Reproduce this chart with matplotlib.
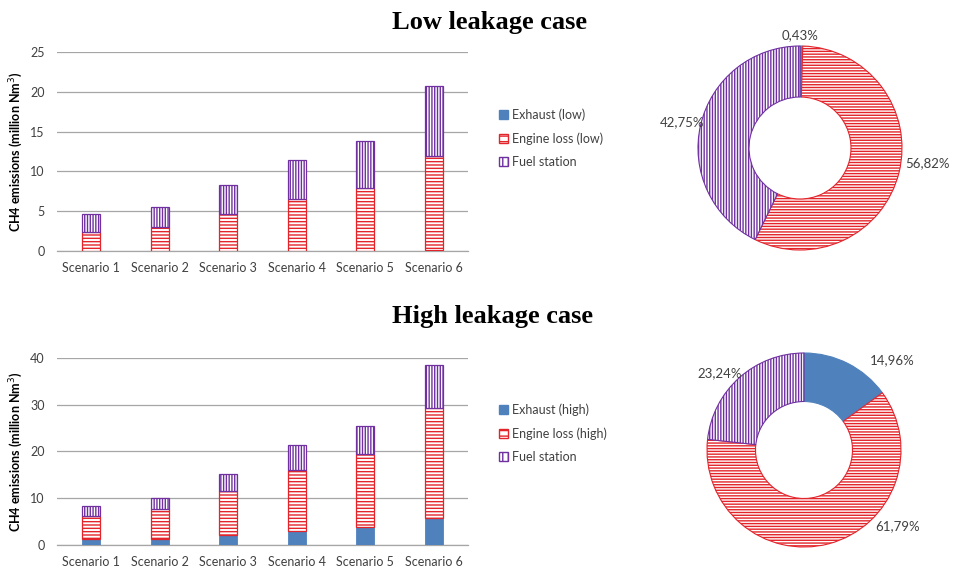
import numpy as np
import matplotlib
matplotlib.use('Agg')
import matplotlib.pyplot as plt
from matplotlib.patches import Patch

plt.rcParams['font.family'] = ['Lato', 'DejaVu Sans']
plt.rcParams['hatch.linewidth'] = 1.0

scenarios = ['Scenario 1', 'Scenario 2', 'Scenario 3', 'Scenario 4', 'Scenario 5', 'Scenario 6']

# low leakage case (million Nm3)
exhaust_low = [0.02, 0.02, 0.04, 0.05, 0.06, 0.09]
engine_low = [2.40, 3.03, 4.60, 6.43, 7.88, 11.82]
fuel_low = [2.18, 2.43, 3.60, 4.97, 5.94, 8.87]

# high leakage case (million Nm3)
exhaust_high = [1.21, 1.35, 2.21, 3.06, 3.77, 5.69]
engine_high = [5.05, 6.34, 9.39, 12.95, 15.66, 23.63]
fuel_high = [2.07, 2.35, 3.56, 5.27, 5.98, 9.04]

# donut shares (%)
share_low = [0.43, 56.82, 42.75]
share_high = [14.96, 61.79, 23.24]

BLUE = '#4F81BD'
RED = '#E3242B'
PURPLE = '#7030A0'
GRID = '#A6A6A6'
TXT = '#404040'


def bar_panel(ax, exhaust, engine, fuel, ymax):
    x = np.arange(len(scenarios))
    w = 0.265
    ex = np.array(exhaust)
    en = np.array(engine)
    fu = np.array(fuel)
    ax.bar(x, ex, w, color=BLUE, edgecolor=BLUE, linewidth=0.6, zorder=3)
    ax.bar(x, en, w, bottom=ex, facecolor='white', edgecolor=RED,
           hatch='-----', linewidth=0.9, zorder=3)
    ax.bar(x, fu, w, bottom=ex + en, facecolor='white', edgecolor=PURPLE,
           hatch='||||||', linewidth=0.9, zorder=3)
    ax.set_xlim(-0.5, len(scenarios) - 0.5)
    ax.set_ylim(0, ymax)
    ax.set_xticks(x)
    ax.set_xticklabels(scenarios)
    ax.tick_params(axis='both', length=0, labelsize=9, colors=TXT)
    ax.tick_params(axis='y', pad=9)
    ax.tick_params(axis='x', pad=8)
    ax.grid(axis='y', color=GRID, linewidth=0.9, zorder=0)
    for s in ['top', 'right', 'left']:
        ax.spines[s].set_visible(False)
    ax.spines['bottom'].set_color(GRID)
    ax.spines['bottom'].set_linewidth(0.9)
    ax.set_ylabel('CH4 emissions (million Nm$^3$)', fontsize=9, fontweight='bold',
                  color='black')
    ax.yaxis.set_label_coords(-0.078, 0.5)


def donut(ax, shares, label_pos):
    wedges, _ = ax.pie(shares, startangle=90, counterclock=False,
                       radius=1.0, wedgeprops=dict(width=0.5, linewidth=0.8))
    styles = [dict(facecolor=BLUE, edgecolor=BLUE, hatch=None),
              dict(facecolor='white', edgecolor=RED, hatch='------'),
              dict(facecolor='white', edgecolor=PURPLE, hatch='||||||')]
    for wdg, st in zip(wedges, styles):
        wdg.set_facecolor(st['facecolor'])
        wdg.set_edgecolor(st['edgecolor'])
        if st['hatch']:
            wdg.set_hatch(st['hatch'])
    for val, (lx, ly) in zip(shares, label_pos):
        ax.text(lx, ly, f'{val:.2f}%'.replace('.', ','), ha='center', va='center',
                fontsize=9.5, color=TXT)
    ax.set_xlim(-1.35, 1.35)
    ax.set_ylim(-1.35, 1.35)
    ax.set_aspect('equal')
    ax.axis('off')


fig = plt.figure(figsize=(9.55, 5.74), dpi=100)

ax1 = fig.add_axes([0.0597, 0.5627, 0.4304, 0.3467])
bar_panel(ax1, exhaust_low, engine_low, fuel_low, 25)
ax1.set_yticks([0, 5, 10, 15, 20, 25])

ax2 = fig.add_axes([0.0597, 0.0505, 0.4304, 0.3263])
bar_panel(ax2, exhaust_high, engine_high, fuel_high, 40)
ax2.set_yticks([0, 10, 20, 30, 40])

# donuts: axes sized so that radius 1 ~ 102 px
s1 = 2.7 * 102 / 955
h1 = 2.7 * 102 / 574
ax3 = fig.add_axes([800 / 955 - s1 / 2, (574 - 148) / 574 - h1 / 2, s1, h1])
donut(ax3, share_low, [(0, 1.11), (1.25, -0.15), (-1.16, 0.25)])

s2 = 2.7 * 97 / 955
h2 = 2.7 * 97 / 574
ax4 = fig.add_axes([804 / 955 - s2 / 2, (574 - 450) / 574 - h2 / 2, s2, h2])
donut(ax4, share_high, [(0.91, 0.93), (0.96, -0.79), (-0.87, 0.79)])

fig.text(392 / 955, 1 - 29 / 574, 'Low leakage case', ha='left', va='baseline',
         fontsize=19, fontweight='bold', family='Liberation Serif')
fig.text(392 / 955, 1 - 323 / 574, 'High leakage case', ha='left', va='baseline',
         fontsize=19, fontweight='bold', family='Liberation Serif')


def legend_handles(tag):
    return [Patch(facecolor=BLUE, edgecolor=BLUE, label=f'Exhaust ({tag})'),
            Patch(facecolor='white', edgecolor=RED, hatch='---', label=f'Engine loss ({tag})'),
            Patch(facecolor='white', edgecolor=PURPLE, hatch='|||', label='Fuel station')]


for tag, ytop in [('low', 114), ('high', 409)]:
    fig.legend(handles=legend_handles(tag), loc='upper left',
               bbox_to_anchor=(493 / 955, 1 - (ytop - 12) / 574),
               frameon=False, fontsize=9, handlelength=0.7, handleheight=0.7,
               handletextpad=0.3, labelspacing=0.9, borderpad=0, labelcolor=TXT)

fig.savefig('out.png', dpi=100)
